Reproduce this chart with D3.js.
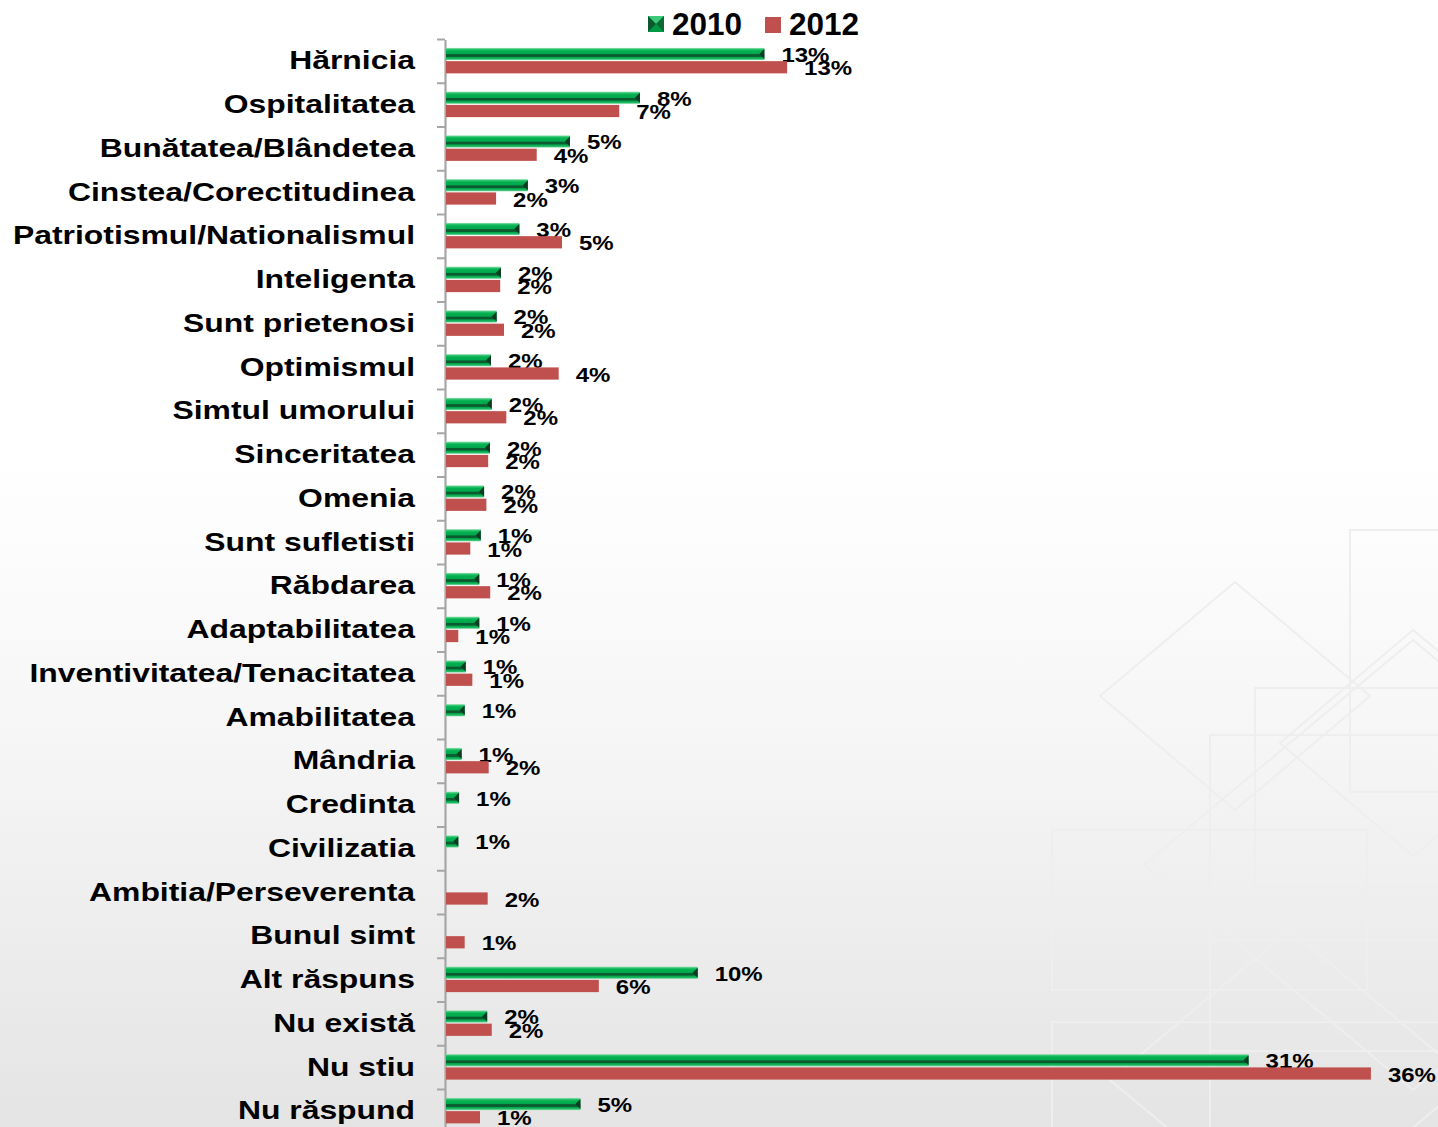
<!DOCTYPE html>
<html>
<head>
<meta charset="utf-8">
<script src="https://cdn.jsdelivr.net/npm/d3@7"></script>
<style>
html,body{margin:0;padding:0;overflow:hidden;background:#fff;}
text{font-family:"Liberation Sans",Arial,Helvetica,sans-serif;font-weight:bold;fill:#000;}
</style>
</head>
<body>
<svg id="chart" width="1438" height="1127"></svg>
<script>
// ---------- DATA ----------
const categories = [
  "Hărnicia","Ospitalitatea","Bunătatea/Blândetea","Cinstea/Corectitudinea",
  "Patriotismul/Nationalismul","Inteligenta","Sunt prietenosi","Optimismul",
  "Simtul umorului","Sinceritatea","Omenia","Sunt sufletisti","Răbdarea",
  "Adaptabilitatea","Inventivitatea/Tenacitatea","Amabilitatea","Mândria",
  "Credinta","Civilizatia","Ambitia/Perseverenta","Bunul simt","Alt răspuns",
  "Nu există","Nu stiu","Nu răspund"
];
const seriesNames = ["2010","2012"];
const values2010 = [12.5,7.63,4.89,3.24,2.91,2.19,2.02,1.8,1.83,1.76,1.53,1.4,1.34,
  1.34,0.81,0.77,0.65,0.55,0.52,null,null,9.89,1.65,31.45,5.3];
const values2012 = [13.39,6.82,3.59,2.0,4.58,2.16,2.31,4.45,2.4,1.69,1.62,0.99,1.77,
  0.52,1.07,null,1.71,null,null,1.67,0.77,6.02,1.83,36.24,1.37];
const seriesColors = {"2010":"#00b050","2012":"#c0504d"};

// ---------- LAYOUT ----------
const W = 1438, H = 1127;
const svg = d3.select("#chart");
const defs = svg.append("defs");

// background gradient
const bg = defs.append("linearGradient").attr("id","bg").attr("x1",0).attr("y1",0).attr("x2",0).attr("y2",1);
bg.append("stop").attr("offset","0").attr("stop-color","#ffffff");
bg.append("stop").attr("offset","0.4").attr("stop-color","#ffffff");
bg.append("stop").attr("offset","0.65").attr("stop-color","#f6f6f6");
bg.append("stop").attr("offset","1").attr("stop-color","#e4e4e4");
svg.append("rect").attr("width",W).attr("height",H).attr("fill","url(#bg)");

// decorative background pattern (not data)
const decoPolys = [
  [[1235,582],[1370,696],[1235,810],[1100,696]],
  [[1413,630],[1550,743],[1413,856],[1280,743]],
  [[1413,640],[1682,865],[1413,1090],[1144,865]],
  [[1290,930],[1470,1080],[1290,1230],[1110,1080]]
];
const decoRects = [
  [1350,530,200,262],[1255,688,200,198],[1210,735,240,316],[1052,830,315,160],
  [1052,1022,400,150],[1210,940,240,200]
];
const deco = svg.append("g").attr("fill","none").attr("stroke","#eeeeee").attr("stroke-width",2);
deco.selectAll("polygon").data(decoPolys).join("polygon")
  .attr("points", d => d.map(p => p.join(",")).join(" "));
deco.selectAll("rect").data(decoRects).join("rect")
  .attr("x",d=>d[0]).attr("y",d=>d[1]).attr("width",d=>d[2]).attr("height",d=>d[3]);

// green bevel gradient
const gg = defs.append("linearGradient").attr("id","gBar").attr("x1",0).attr("y1",0).attr("x2",0).attr("y2",1);
[[0,"#9fe4b9"],[0.12,"#2cc26c"],[0.25,"#00b050"],[0.48,"#00a84c"],[0.55,"#0c5a2f"],
 [0.7,"#0c5a2f"],[0.77,"#00a64b"],[0.9,"#1fba62"],[1,"#8fdcae"]]
  .forEach(s => gg.append("stop").attr("offset",s[0]).attr("stop-color",s[1]));

const x0 = 445;
const x = d3.scaleLinear().domain([0,40]).range([x0, x0 + 1022]);
const y = d3.scaleBand().domain(categories).range([39.5, 39.5 + 25*43.75]).padding(0);
const ySub = d3.scaleBand().domain(seriesNames).range([-13.5, 12]).paddingInner(0.08);

const rows = categories.map((c,i) => ({cat:c, vals:[
  {s:"2010", v:values2010[i]}, {s:"2012", v:values2012[i]}]}));

// axis
const axis = d3.axisLeft(y).tickSize(0).tickFormat("");
const axG = svg.append("g").attr("transform",`translate(${x0},0)`).call(axis);
axG.select(".domain").attr("stroke","#a6a6a6").attr("stroke-width",2.2);
const bounds = d3.range(categories.length+1).map(k => y.range()[0] + k*y.step());
axG.selectAll(".btick").data(bounds).join("line").attr("class","btick")
  .attr("x1",-8).attr("x2",0).attr("y1",d=>d).attr("y2",d=>d)
  .attr("stroke","#a6a6a6").attr("stroke-width",2);

// category labels
svg.append("g").selectAll("text").data(categories).join("text")
  .attr("transform", d => `translate(415,${y(d)+y.bandwidth()/2-1}) scale(1.25,1)`)
  .attr("text-anchor","end").attr("dy","0.35em")
  .style("font-size","25.5px").text(d => d);

// bars
const groups = svg.append("g").selectAll("g").data(rows).join("g")
  .attr("transform", d => `translate(0,${y(d.cat)+y.bandwidth()/2})`);

const bars = groups.selectAll("g.bar").data(d => d.vals.filter(v => v.v != null)).join("g").attr("class","bar");
bars.append("rect")
  .attr("x", x0+1).attr("y", d => ySub(d.s))
  .attr("width", d => x(d.v) - x0 - 1).attr("height", ySub.bandwidth())
  .attr("fill", d => d.s === "2010" ? "url(#gBar)" : seriesColors["2012"]);
bars.filter(d => d.s === "2010").append("polygon")
  .attr("points", d => {
    const e = x(d.v), t = ySub(d.s), b = t + ySub.bandwidth(), m = (t+b)/2;
    return `${e},${t+1} ${e-5},${m} ${e},${b-1}`;
  }).attr("fill","#0b3b20");

// data labels
bars.append("text")
  .attr("transform", d => `translate(${x(d.v)+17},${ySub(d.s)+ySub.bandwidth()/2+1}) scale(1.2,1)`)
  .attr("dy","0.35em").style("font-size","20px")
  .text(d => Math.round(d.v) + "%");

// legend
const legend = svg.append("g");
const lg = legend.append("g").attr("transform","translate(648,16)");
lg.append("rect").attr("width",16).attr("height",16).attr("fill","#00b050");
lg.append("polygon").attr("points","0,0 16,0 8,8").attr("fill","#3cc97a");
lg.append("polygon").attr("points","0,16 16,16 8,8").attr("fill","#009944");
lg.append("polygon").attr("points","0,0 8,8 0,16").attr("fill","#0b5a2f");
lg.append("polygon").attr("points","16,0 8,8 16,16").attr("fill","#0d6a36");
legend.append("text").attr("x",672).attr("y",35).style("font-size","31.5px").text(seriesNames[0]);
legend.append("rect").attr("x",765).attr("y",17).attr("width",16).attr("height",16).attr("fill",seriesColors["2012"]);
legend.append("text").attr("x",789).attr("y",35).style("font-size","31.5px").text(seriesNames[1]);
</script>
</body>
</html>
